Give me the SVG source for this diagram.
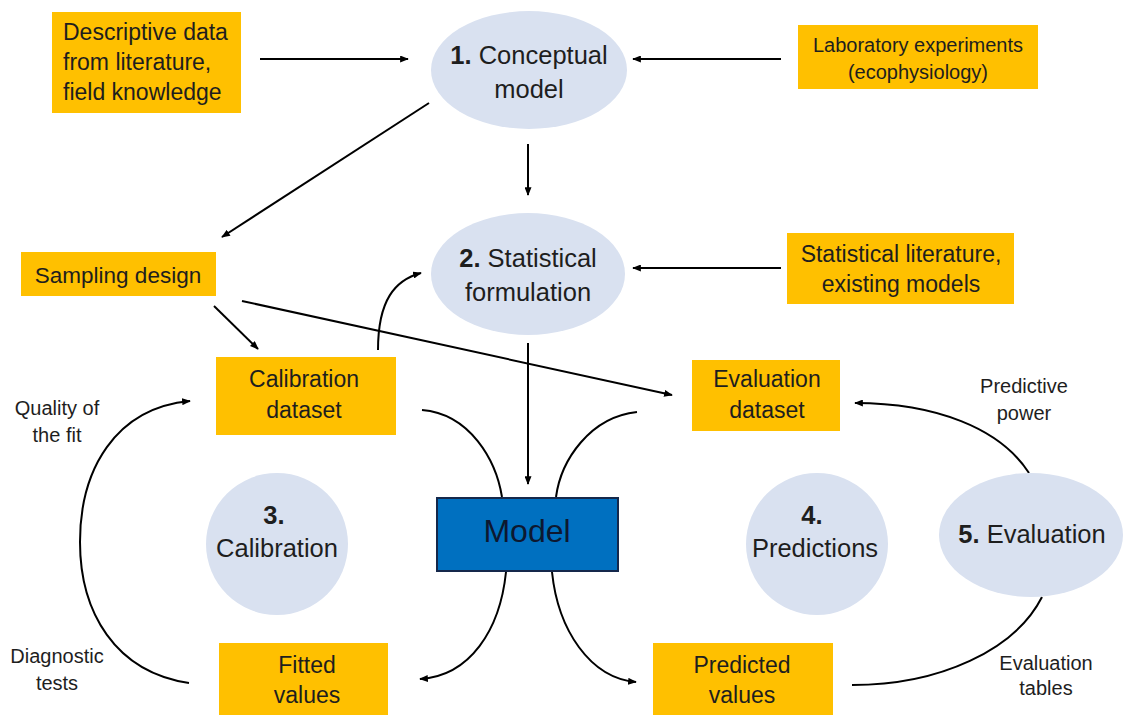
<svg xmlns="http://www.w3.org/2000/svg" width="1124" height="715" viewBox="0 0 1124 715">
<style>
text { font-family: "Liberation Sans", Arial, sans-serif; fill: #1e1e1e; }
.box { fill: #FFC000; }
.ell { fill: #D9E1F0; }
.bt { font-size: 23px; text-anchor: middle; }
.et { font-size: 25.5px; text-anchor: middle; }
.lbl { font-size: 20px; text-anchor: middle; }
.b { font-weight: bold; }
.con { fill: none; stroke: #000; stroke-width: 2; }
</style>
<defs>
<marker id="ah" viewBox="0 0 10 8" refX="9" refY="4" markerWidth="9" markerHeight="7" markerUnits="userSpaceOnUse" orient="auto">
<path d="M0,0 L10,4 L0,8 z" fill="#000"/>
</marker>
</defs>
<rect width="1124" height="715" fill="#fff"/>

<g id="connectors">
<line class="con" x1="260" y1="59" x2="408" y2="59" marker-end="url(#ah)"/>
<line class="con" x1="781" y1="59" x2="633" y2="59" marker-end="url(#ah)"/>
<line class="con" x1="429" y1="103" x2="222" y2="237" marker-end="url(#ah)"/>
<line class="con" x1="528" y1="144" x2="528" y2="195" marker-end="url(#ah)"/>
<line class="con" x1="781" y1="268" x2="633" y2="268" marker-end="url(#ah)"/>
<line class="con" x1="214" y1="306" x2="258" y2="349" marker-end="url(#ah)"/>
<line class="con" x1="242" y1="301" x2="672" y2="395" marker-end="url(#ah)"/>
<path class="con" d="M378,350 C378,300 395,280 421,273" marker-end="url(#ah)"/>
<line class="con" x1="528" y1="343" x2="528" y2="484" marker-end="url(#ah)"/>
<path class="con" d="M422,410 C470,414 496,460 502,497"/>
<path class="con" d="M637,412 C590,417 561,460 556,497"/>
<path class="con" d="M506,572 C500,630 470,676 420,679" marker-end="url(#ah)"/>
<path class="con" d="M552,572 C558,630 590,678 636,682" marker-end="url(#ah)"/>
<path class="con" d="M189,683 C115,672 80,612 80,542 C80,470 115,408 190,401" marker-end="url(#ah)"/>
<path class="con" d="M1029,473 C1000,428 935,403 855,403" marker-end="url(#ah)"/>
<path class="con" d="M852,685 C940,685 1015,650 1042,597"/>
</g>

<g id="descriptive">
<rect class="box" x="52" y="12" width="189" height="101"/>
<text x="63" y="40" font-size="23">Descriptive data</text>
<text x="63" y="70" font-size="23">from literature,</text>
<text x="63" y="100" font-size="23">field knowledge</text>
</g>

<g id="conceptual">
<ellipse class="ell" cx="529" cy="70" rx="98" ry="59"/>
<text class="et" x="529" y="64"><tspan class="b">1.</tspan> Conceptual</text>
<text class="et" x="529" y="98">model</text>
</g>

<g id="laboratory">
<rect class="box" x="798" y="25" width="240" height="64"/>
<text x="918" y="52" font-size="20" text-anchor="middle">Laboratory experiments</text>
<text x="918" y="79" font-size="20" text-anchor="middle">(ecophysiology)</text>
</g>

<g id="sampling">
<rect class="box" x="21" y="252" width="195" height="44"/>
<text x="118" y="283" font-size="22.5" text-anchor="middle">Sampling design</text>
</g>

<g id="statistical">
<ellipse class="ell" cx="528" cy="274" rx="97" ry="61"/>
<text class="et" x="528" y="267"><tspan class="b">2.</tspan> Statistical</text>
<text class="et" x="528" y="301">formulation</text>
</g>

<g id="statlit">
<rect class="box" x="787" y="233" width="227" height="71"/>
<text class="bt" x="901" y="262">Statistical literature,</text>
<text class="bt" x="901" y="292">existing models</text>
</g>

<g id="calibration-dataset">
<rect class="box" x="216" y="357" width="180" height="78"/>
<text class="bt" x="304" y="387">Calibration</text>
<text class="bt" x="304" y="418">dataset</text>
</g>

<g id="evaluation-dataset">
<rect class="box" x="692" y="360" width="148" height="71"/>
<text class="bt" x="767" y="387">Evaluation</text>
<text class="bt" x="767" y="418">dataset</text>
</g>

<g id="quality-label">
<text class="lbl" x="57" y="415">Quality of</text>
<text class="lbl" x="57" y="442">the fit</text>
</g>

<g id="predictive-label">
<text class="lbl" x="1024" y="393">Predictive</text>
<text class="lbl" x="1024" y="420">power</text>
</g>

<g id="calibration">
<circle class="ell" cx="277" cy="544" r="71"/>
<text class="et b" x="274" y="524">3.</text>
<text class="et" x="277" y="557">Calibration</text>
</g>

<g id="model">
<rect x="437" y="498" width="181" height="73" fill="#0070C0" stroke="#15284b" stroke-width="2"/>
<text x="527" y="542" font-size="32" text-anchor="middle" style="fill:#0d1830">Model</text>
</g>

<g id="predictions">
<circle class="ell" cx="817" cy="544" r="71"/>
<text class="et b" x="812" y="524">4.</text>
<text class="et" x="815" y="557">Predictions</text>
</g>

<g id="evaluation">
<ellipse class="ell" cx="1031" cy="535" rx="92" ry="62"/>
<text class="et" x="1032" y="543"><tspan class="b">5.</tspan> Evaluation</text>
</g>

<g id="diagnostic-label">
<text class="lbl" x="57" y="663">Diagnostic</text>
<text class="lbl" x="57" y="690">tests</text>
</g>

<g id="fitted">
<rect class="box" x="219" y="643" width="169" height="72"/>
<text class="bt" x="307" y="673">Fitted</text>
<text class="bt" x="307" y="703">values</text>
</g>

<g id="predicted">
<rect class="box" x="653" y="643" width="180" height="72"/>
<text class="bt" x="742" y="673">Predicted</text>
<text class="bt" x="742" y="703">values</text>
</g>

<g id="tables-label">
<text class="lbl" x="1046" y="670">Evaluation</text>
<text class="lbl" x="1046" y="695">tables</text>
</g>
</svg>
